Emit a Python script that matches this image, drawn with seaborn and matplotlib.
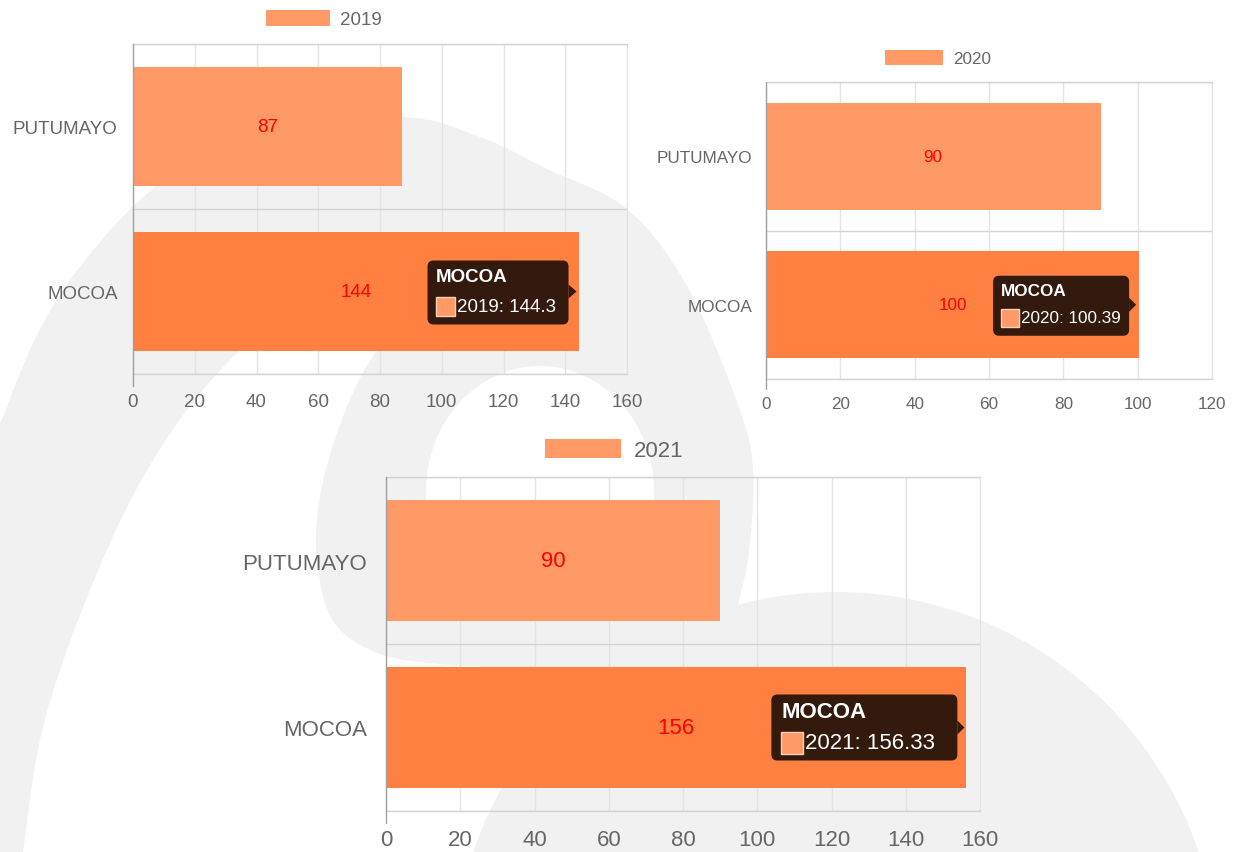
import numpy as np
import pandas as pd
import matplotlib.pyplot as plt
import seaborn as sns
from matplotlib.patches import Polygon, Ellipse, Circle, FancyBboxPatch, Rectangle, Patch

sns.set_style("white")
plt.rcParams['font.family'] = ['Liberation Sans', 'DejaVu Sans']

# Data
YEARS = ["2019", "2020", "2021"]
REGIONS = ["PUTUMAYO", "MOCOA"]
PUTUMAYO = [87, 90, 90]
MOCOA = [144.3, 100.39, 156.33]
X_MAX = [160, 120, 160]
X_STEP = 20

C_BAR = "#FF9966"
C_HOVER = "#FF8040"
C_TIP = "#331A0D"
C_TEXT = "#666666"

W, H = 1236, 853

# layout of each panel in pixels (left, top, right, bottom)
PANELS = [
    dict(box=(133, 45, 627, 375), fs=13.5, ypad=11, xpad=14, tick=11, leg=(324, 20),
         hl=3.4, hh=1.0, tip=(-151, -10, -2, -31, 64, 8, 16, 19, 36, 46)),
    dict(box=(766, 83, 1212, 380), fs=12.3, ypad=10, xpad=12, tick=10, leg=(938, 59),
         hl=3.4, hh=1.05, tip=(-146, -10, -3, -29, 60, 8, 15, 18, 33, 42)),
    dict(box=(386, 478, 980, 812), fs=16, ypad=13.5, xpad=13, tick=13, leg=(614, 451),
         hl=3.45, hh=0.95, tip=(-195, -9, -2, -33, 66, 10, 17, 22, 37, 48)),
]


def smooth(pts, n=14):
    # catmull-rom through the given points, just for the faint background logo
    pts = np.asarray(pts, float)
    p = np.vstack([pts[0], pts, pts[-1]])
    t = np.linspace(0, 1, n, endpoint=False)[:, None]
    out = []
    for i in range(1, len(p) - 2):
        p0, p1, p2, p3 = p[i - 1], p[i], p[i + 1], p[i + 2]
        out.append(0.5 * (2 * p1 + (-p0 + p2) * t + (2 * p0 - 5 * p1 + 4 * p2 - p3) * t ** 2
                          + (-p0 + 3 * p1 - 3 * p2 + p3) * t ** 3))
    out.append(p[-2][None])
    return np.vstack(out)


fig = plt.figure(figsize=(W / 100, H / 100), dpi=100, facecolor="white")

# background watermark
bg = fig.add_axes([0, 0, 1, 1], zorder=0)
bg.set_xlim(0, W)
bg.set_ylim(H, 0)
bg.axis("off")
GRAY = "#F1F1F1"
outer = smooth([(0, 425), (40, 330), (90, 255), (160, 185), (260, 135), (400, 118), (480, 138),
                (547, 170), (627, 210), (687, 287), (737, 403), (753, 470), (748, 560),
                (730, 650), (710, 853)])
bg.add_patch(Polygon(np.vstack([[(0, 853)], outer]), closed=True, fc=GRAY, ec="none"))
gap_a = smooth([(23, 853), (45, 720), (100, 567), (160, 450), (233, 358), (320, 292),
                (410, 250), (470, 244), (515, 258)])
gap_b = smooth([(515, 258), (460, 276), (410, 310), (365, 370), (335, 440), (318, 510),
                (318, 570), (335, 625), (380, 655), (440, 665), (480, 667)])
bg.add_patch(Polygon(np.vstack([gap_a, gap_b, [(560, 853)]]), closed=True, fc="white", ec="none"))
bg.add_patch(Ellipse((540, 492), 228, 250, fc="white", ec="none"))
bg.add_patch(Circle((836, 976), 383, fc=GRAY, ec="none"))

top = fig.add_axes([0, 0, 1, 1], zorder=5)
top.set_xlim(0, W)
top.set_ylim(H, 0)
top.axis("off")
top.patch.set_alpha(0)

for i, lay in enumerate(PANELS):
    l, t, r, b = lay["box"]
    fs = lay["fs"]
    ax = fig.add_axes([l / W, 1 - b / H, (r - l) / W, (b - t) / H], zorder=2)
    ax.patch.set_alpha(0)

    df = pd.DataFrame({"region": REGIONS, "value": [PUTUMAYO[i], MOCOA[i]]})
    sns.barplot(data=df, x="value", y="region", hue="region", orient="h",
                palette={"PUTUMAYO": C_BAR, "MOCOA": C_HOVER}, width=0.72,
                saturation=1, legend=False, linewidth=0, ax=ax)

    ax.set_xlim(0, X_MAX[i])
    ax.set_ylim(1.5, -0.5)
    ax.set_xticks(np.arange(0, X_MAX[i] + 1, X_STEP))
    ax.set_yticks([-0.5, 0.5, 1.5], minor=True)
    ax.set_xlabel("")
    ax.set_ylabel("")
    ax.set_axisbelow(True)
    ax.grid(axis="x", which="major", color="#E3E3E3", lw=1)
    ax.grid(axis="y", which="major", visible=False)
    ax.grid(axis="y", which="minor", color="#D3D3D3", lw=1)
    ax.tick_params(axis="y", which="major", length=0, pad=lay["ypad"], labelsize=fs, labelcolor=C_TEXT)
    ax.tick_params(axis="y", which="minor", length=lay["tick"], color="#D3D3D3", width=1)
    ax.tick_params(axis="x", which="major", length=0, pad=lay["xpad"], labelsize=fs, labelcolor=C_TEXT)
    ax.spines["left"].set_visible(False)
    for s in ["top", "bottom"]:
        ax.spines[s].set_color("#D3D3D3")
        ax.spines[s].set_linewidth(1)
    ax.spines["right"].set_color("#E3E3E3")
    ax.axvline(0, ymin=-0.035, ymax=1, color="#A0A0A0", lw=1, clip_on=False, zorder=3)

    for j, v in enumerate(df["value"]):
        ax.text(v / 2, j, f"{v:.0f}", color="red", ha="center", va="center", fontsize=fs)

    ax.legend(handles=[Patch(facecolor=C_BAR, edgecolor="none")], labels=[YEARS[i]],
              loc="center", bbox_to_anchor=lay["leg"], bbox_transform=top.transData,
              frameon=False, fontsize=fs, labelcolor=C_TEXT, handlelength=lay["hl"],
              handleheight=lay["hh"], handletextpad=0.55, borderpad=0, borderaxespad=0)

    # hover tooltip on the MOCOA bar
    bx0, bx1, tipx, by0, bh, tx, ty, sw, sy, vy = lay["tip"]
    ex, ey = ax.transData.transform((MOCOA[i], 1))
    ey = H - ey
    left, upper = ex + bx0, ey + by0
    top.add_patch(FancyBboxPatch((left, upper), bx1 - bx0, bh,
                                 boxstyle="round,pad=0,rounding_size=6", fc=C_TIP, ec="none"))
    top.add_patch(Polygon([(ex + bx1, ey - 7), (ex + tipx, ey), (ex + bx1, ey + 7)],
                          closed=True, fc=C_TIP, ec="none"))
    top.text(left + tx, upper + ty, "MOCOA", color="white", fontweight="bold",
             fontsize=fs, ha="left", va="center")
    top.add_patch(Rectangle((left + tx, upper + sy), sw, sw, fc=C_BAR, ec="#F7D2BC", lw=1))
    top.text(left + tx + sw + 2, upper + vy, f"{YEARS[i]}: {MOCOA[i]}", color="white",
             fontsize=fs, ha="left", va="center")

fig.savefig("out.png", dpi=100)
